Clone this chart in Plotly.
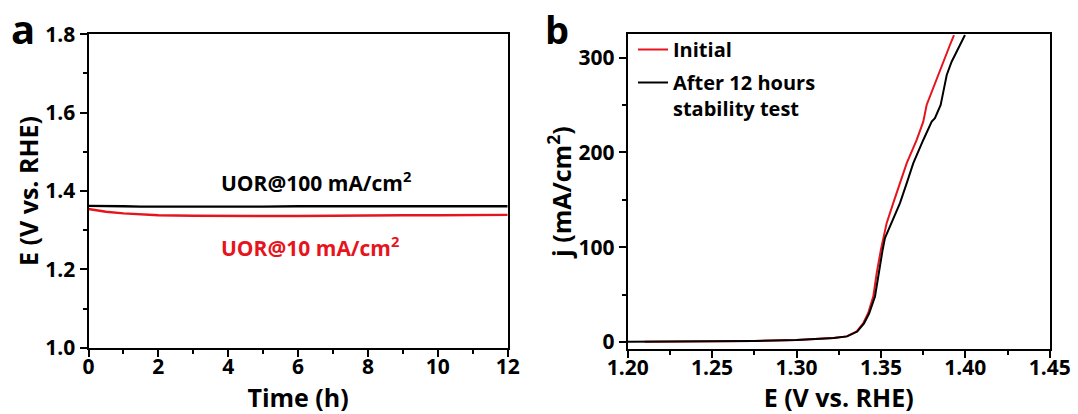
import plotly.graph_objects as go

# ---------------- Panel a data ----------------
time_h = [0, 0.25, 0.5, 1, 1.5, 2, 3, 4, 5, 6, 7, 8, 9, 10, 11, 12]
e_100 = [1.362, 1.362, 1.361, 1.361, 1.360, 1.360, 1.359, 1.360, 1.360, 1.361,
         1.361, 1.361, 1.361, 1.361, 1.361, 1.361]
e_10 = [1.354, 1.350, 1.347, 1.343, 1.340, 1.338, 1.337, 1.336, 1.336, 1.336,
        1.337, 1.337, 1.338, 1.338, 1.339, 1.339]

# ---------------- Panel b data ----------------
e_initial = [1.210, 1.250, 1.275, 1.300, 1.314, 1.322, 1.3297, 1.3357, 1.3396,
             1.3425, 1.3455, 1.3475, 1.3500, 1.3515, 1.3534, 1.3573, 1.3613,
             1.3653, 1.3712, 1.3751, 1.3771, 1.3801, 1.3840, 1.3880, 1.3909, 1.3933]
j_initial = [0.3, 0.6, 1.0, 2.0, 3.2, 4.2, 5.9, 11.2, 20.0, 30.6, 48.1, 72.7, 97.3,
             110, 125.4, 146.5, 167.6, 188.7, 213.2, 232.5, 250.1, 264.2, 281.8,
             299.3, 313.4, 323.9]
e_after = [1.200, 1.250, 1.275, 1.300, 1.314, 1.322, 1.330, 1.336, 1.340, 1.343,
           1.3465, 1.3485, 1.351, 1.3524, 1.3573, 1.3613, 1.3653, 1.3692, 1.3751,
           1.3801, 1.3820, 1.3854, 1.3870, 1.3890, 1.3919, 1.3953, 1.3979, 1.3998]
j_after = [0.3, 0.6, 1.0, 2.0, 3.2, 4.2, 5.9, 11.0, 19.5, 30, 48, 72, 97, 109.6,
           128.9, 146.5, 167.6, 188.7, 213.2, 232.5, 236.1, 250.1, 264.2, 281.8,
           295.8, 308.1, 316.9, 323.9]

RED = "rgb(230,20,28)"
BLACK = "black"
FONT = "Open Sans"

W, H = 1078, 414

fig = go.Figure()

fig.add_trace(go.Scatter(x=time_h, y=e_100, mode="lines", line=dict(color=BLACK, width=2.4),
                         xaxis="x", yaxis="y", showlegend=False, name="UOR@100 mA/cm2"))
fig.add_trace(go.Scatter(x=time_h, y=e_10, mode="lines", line=dict(color=RED, width=2.4),
                         xaxis="x", yaxis="y", showlegend=False, name="UOR@10 mA/cm2"))

fig.add_trace(go.Scatter(x=e_initial, y=j_initial, mode="lines", line=dict(color=RED, width=2),
                         xaxis="x2", yaxis="y2", name="Initial", legendgroup="g1"))
fig.add_trace(go.Scatter(x=e_after, y=j_after, mode="lines", line=dict(color=BLACK, width=2),
                         xaxis="x2", yaxis="y2", name="After 12 hours<br>stability test",
                         legendgroup="g2"))

tickfont = dict(family=FONT, size=21, color="black", weight="bold")
titlefont = dict(family=FONT, size=25, color="black", weight="bold")

common = dict(showline=True, linecolor="black", linewidth=2, mirror=True,
              ticks="outside", ticklen=7, tickwidth=2, tickcolor="black",
              showgrid=False, zeroline=False, tickfont=tickfont, automargin=False)

def px_x(p):
    return p / W

def px_y(p):
    return 1 - p / H

fig.update_layout(
    template="none",
    width=W, height=H,
    margin=dict(l=0, r=0, t=0, b=0),
    paper_bgcolor="white", plot_bgcolor="white",
    font=dict(family=FONT, color="black"),
    xaxis=dict(domain=[px_x(88.5), px_x(507.7)], range=[0, 12], dtick=2,
               minor=dict(dtick=1, ticks="outside", ticklen=4, tickwidth=2, tickcolor="black"),
               ticklabelstandoff=-8,
               title=dict(text="Time (h)", font=titlefont, standoff=10),
               anchor="y", **common),
    yaxis=dict(domain=[px_y(347.7), px_y(34.3)], range=[1.0, 1.8], dtick=0.2,
               tickformat=".1f",
               minor=dict(dtick=0.1, ticks="outside", ticklen=4, tickwidth=2, tickcolor="black"),
               title=dict(text="E (V vs. RHE)", font=titlefont, standoff=0),
               anchor="x", **common),
    xaxis2=dict(domain=[px_x(627.7), px_x(1049.7)], range=[1.20, 1.45], dtick=0.05,
                tickformat=".2f",
                minor=dict(dtick=0.025, ticks="outside", ticklen=4, tickwidth=2, tickcolor="black"),
                ticklabelstandoff=-8,
                title=dict(text="E (V vs. RHE)", font=titlefont, standoff=10),
                anchor="y2", **common),
    yaxis2=dict(domain=[px_y(349.0), px_y(34.3)], range=[-7.4, 324.7], dtick=100,
                minor=dict(dtick=50, ticks="outside", ticklen=4, tickwidth=2, tickcolor="black"),
                title=dict(text="j (mA/cm<sup>2</sup>)", font=titlefont, standoff=0),
                anchor="x2", **common),
    legend=dict(x=px_x(633), y=px_y(30), xanchor="left", yanchor="top",
                bgcolor="rgba(0,0,0,0)", borderwidth=0, valign="top",
                tracegroupgap=4,
                font=dict(family=FONT, size=20, color="black", weight="bold")),
    annotations=[
        dict(text="UOR@100 mA/cm<sup>2</sup>", x=6.51, y=1.425, xref="x", yref="y",
             xanchor="center", yanchor="middle",
             showarrow=False, font=dict(family=FONT, size=21, color="black", weight="bold")),
        dict(text="UOR@10 mA/cm<sup>2</sup>", x=6.34, y=1.258, xref="x", yref="y",
             xanchor="center", yanchor="middle",
             showarrow=False, font=dict(family=FONT, size=21, color=RED, weight="bold")),
        dict(text="a", x=px_x(23), y=px_y(29), xref="paper", yref="paper",
             xanchor="center", yanchor="middle",
             showarrow=False, font=dict(family=FONT, size=40, color="black", weight="bold")),
        dict(text="b", x=px_x(557), y=px_y(29), xref="paper", yref="paper",
             xanchor="center", yanchor="middle",
             showarrow=False, font=dict(family=FONT, size=38, color="black", weight="bold")),
    ],
)

fig.write_html("out.html")
